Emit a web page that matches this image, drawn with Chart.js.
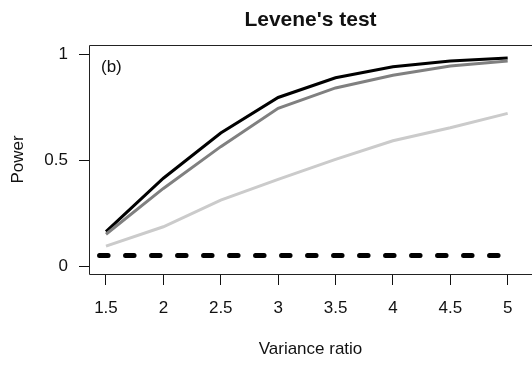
<!DOCTYPE html>
<html>
<head>
<meta charset="utf-8">
<script src="https://cdn.jsdelivr.net/npm/chart.js@4/dist/chart.umd.min.js"></script>
<style>
  html, body { margin: 0; padding: 0; background: #fff; }
  #wrap { width: 532px; height: 372px; }
</style>
</head>
<body>
<div id="wrap"><canvas id="c" width="532" height="372"></canvas></div>
<script>
// Variance ratios at which power was estimated
const varianceRatios = [1.5, 2, 2.5, 3, 3.5, 4, 4.5, 5];

// Estimated power of Levene's test for three settings
const powerHigh = [0.162, 0.414, 0.627, 0.795, 0.888, 0.940, 0.967, 0.981];
const powerMid  = [0.150, 0.366, 0.563, 0.744, 0.840, 0.900, 0.943, 0.967];
const powerLow  = [0.094, 0.185, 0.311, 0.409, 0.503, 0.591, 0.652, 0.720];

// Nominal significance level, drawn as a dashed reference line
const alphaX = [1.444, 5];
const alphaY = [0.05, 0.05];

// Axis ticks
const xTicks = [1.5, 2, 2.5, 3, 3.5, 4, 4.5, 5];
const yTicks = [0, 0.5, 1];
const yTickLabels = ['0', '0.5', '1'];

const toPoints = (xs, ys) => xs.map((x, i) => ({ x: x, y: ys[i] }));

const FONT = '"Liberation Sans", Arial, Helvetica, sans-serif';

// Box around the plotting region
const framePlugin = {
  id: 'frame',
  afterDatasetsDraw(chart) {
    const a = chart.chartArea;
    const ctx = chart.ctx;
    ctx.save();
    ctx.strokeStyle = '#222';
    ctx.lineWidth = 1;
    ctx.beginPath();
    ctx.moveTo(a.right + 2, Math.round(a.top) + 0.5);
    ctx.lineTo(Math.round(a.left) + 0.5, Math.round(a.top) + 0.5);
    ctx.lineTo(Math.round(a.left) + 0.5, Math.round(a.bottom) + 0.5);
    ctx.lineTo(a.right + 2, Math.round(a.bottom) + 0.5);
    ctx.stroke();
    ctx.restore();
  }
};

// Panel tag in the upper-left corner
const panelTag = {
  id: 'panelTag',
  afterDatasetsDraw(chart) {
    const a = chart.chartArea;
    const ctx = chart.ctx;
    ctx.save();
    ctx.fillStyle = '#111';
    ctx.font = '17px ' + FONT;
    ctx.textAlign = 'left';
    ctx.textBaseline = 'middle';
    ctx.fillText('(b)', a.left + 12, a.top + 22);
    ctx.restore();
  }
};

new Chart(document.getElementById('c'), {
  type: 'line',
  data: {
    datasets: [
      {
        label: 'alpha',
        data: toPoints(alphaX, alphaY),
        borderColor: '#000',
        borderWidth: 5,
        borderDash: [8.5, 17.5],
        borderCapStyle: 'round',
        pointRadius: 0,
        fill: false
      },
      {
        label: 'low',
        data: toPoints(varianceRatios, powerLow),
        borderColor: '#cbcbcb',
        borderWidth: 3,
        pointRadius: 0,
        tension: 0,
        fill: false
      },
      {
        label: 'mid',
        data: toPoints(varianceRatios, powerMid),
        borderColor: '#808080',
        borderWidth: 3,
        pointRadius: 0,
        tension: 0,
        fill: false
      },
      {
        label: 'high',
        data: toPoints(varianceRatios, powerHigh),
        borderColor: '#000',
        borderWidth: 3,
        pointRadius: 0,
        tension: 0,
        fill: false
      }
    ]
  },
  options: {
    responsive: false,
    animation: false,
    events: [],
    layout: { padding: 0 },
    plugins: {
      legend: { display: false },
      tooltip: { enabled: false },
      title: {
        display: true,
        text: "Levene's test",
        fullSize: false,
        color: '#111',
        font: { family: FONT, size: 21, weight: 'bold' },
        padding: { top: 7.4, bottom: 12.4 }
      }
    },
    scales: {
      x: {
        type: 'linear',
        position: 'bottom',
        min: 1.352,
        max: 5.212,
        afterFit(s) { s.height = 98; },
        afterBuildTicks(s) { s.ticks = xTicks.map(v => ({ value: v })); },
        grid: {
          drawOnChartArea: false,
          drawTicks: true,
          tickLength: 11,
          tickColor: '#111',
          tickWidth: 1
        },
        border: { display: false },
        ticks: {
          color: '#111',
          padding: 12.8,
          maxRotation: 0,
          autoSkip: false,
          font: { family: FONT, size: 17 },
          callback: v => String(v)
        },
        title: {
          display: true,
          text: 'Variance ratio',
          color: '#111',
          font: { family: FONT, size: 17 },
          padding: { top: 0, bottom: 12.8 }
        }
      },
      y: {
        type: 'linear',
        position: 'left',
        min: -0.0377,
        max: 1.0425,
        afterFit(s) { s.width = 89; },
        afterBuildTicks(s) { s.ticks = yTicks.map(v => ({ value: v })); },
        grid: {
          drawOnChartArea: false,
          drawTicks: true,
          tickLength: 10,
          tickColor: '#111',
          tickWidth: 1
        },
        border: { display: false },
        ticks: {
          color: '#111',
          padding: 11,
          autoSkip: false,
          font: { family: FONT, size: 17 },
          callback: v => yTickLabels[yTicks.indexOf(v)]
        },
        title: {
          display: true,
          text: 'Power',
          color: '#111',
          font: { family: FONT, size: 17 },
          padding: { top: 7.8, bottom: 0 }
        }
      }
    }
  },
  plugins: [framePlugin, panelTag]
});
</script>
</body>
</html>
